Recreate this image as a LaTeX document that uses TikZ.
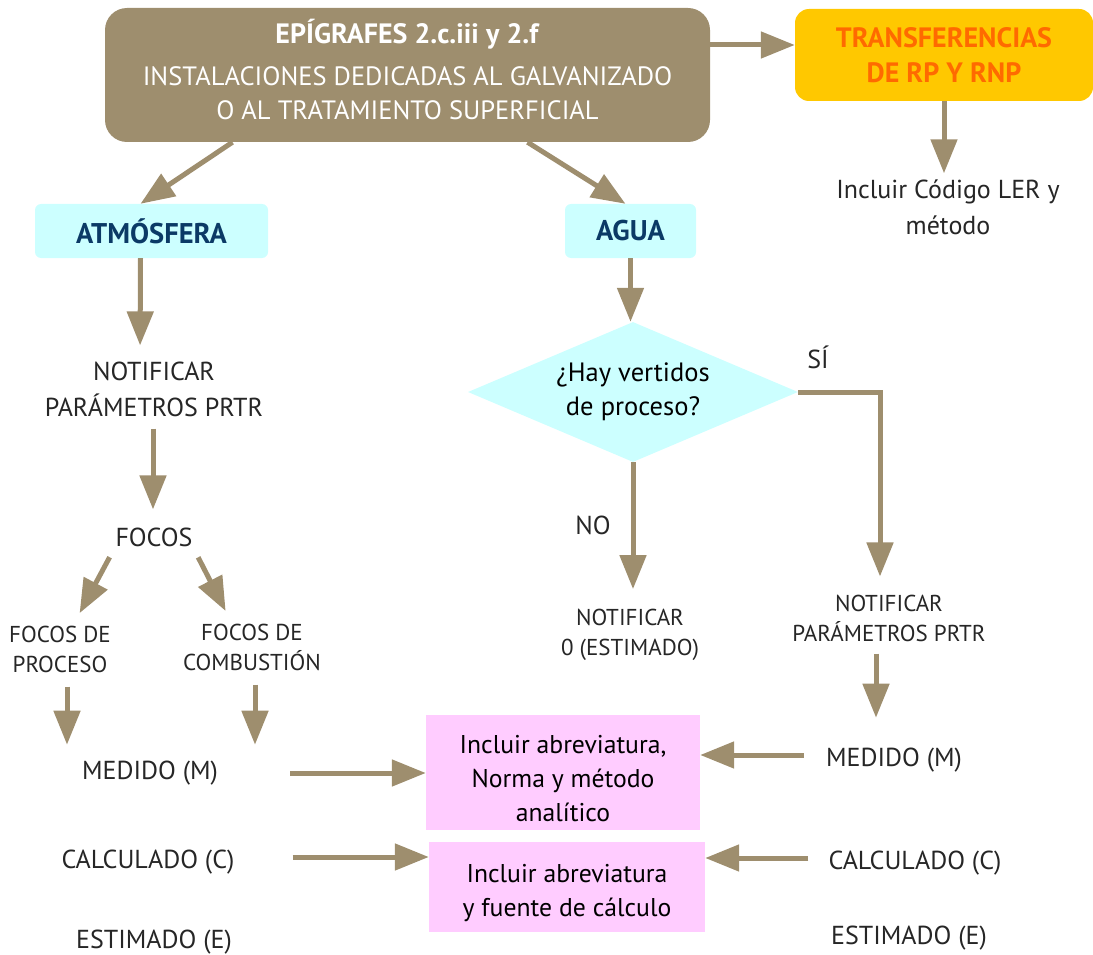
\documentclass[tikz,border=0pt]{standalone}
\usepackage{fontspec}
\setmainfont{PT Sans}
\usetikzlibrary{arrows.meta,shapes.geometric}

\definecolor{tierra}{HTML}{9E8E6E}
\definecolor{celeste}{HTML}{CCFFFF}
\definecolor{rosa}{HTML}{FFCCFF}
\definecolor{oro}{HTML}{FFC800}
\definecolor{naranja}{HTML}{FF6A00}
\definecolor{marino}{HTML}{0B3A66}
\definecolor{texto}{HTML}{262626}

\tikzset{
  flecha/.style={draw=tierra, line width=5pt, -{Triangle[length=34pt,width=26pt]}},
  etiq/.style={text=texto, align=center, inner sep=0pt, font=\fontsize{26}{36}\selectfont},
  etiqc/.style={text=texto, align=center, inner sep=0pt, font=\fontsize{23}{30}\selectfont},
  medio/.style={fill=celeste, rounded corners=6pt, text=marino, font=\fontsize{28.5}{30}\selectfont\bfseries, minimum height=54pt},
  nota/.style={fill=rosa, text=black, align=center, font=\fontsize{25.7}{34}\selectfont}
}

\begin{document}
\begin{tikzpicture}[x=1pt,y=-1pt]
\useasboundingbox (0,0) rectangle (1093,955);

% cabecera
\node[fill=tierra, rounded corners=22pt, minimum width=605pt, minimum height=134pt,
  text=white, align=center, text depth=12pt, font=\fontsize{26.5}{34}\selectfont] (epig) at (407.5,75)
  {\fontsize{28}{34}\selectfont\textbf{EPÍGRAFES 2.c.iii y 2.f}\\[8pt]INSTALACIONES DEDICADAS AL GALVANIZADO\\O AL TRATAMIENTO SUPERFICIAL};
\node[fill=oro, rounded corners=14pt, minimum width=298pt, minimum height=92pt,
  text=naranja, align=center, font=\fontsize{28}{35}\selectfont\bfseries] (trans) at (944,55)
  {TRANSFERENCIAS\\DE RP Y RNP};
\node[etiq] (ler) at (948,207) {Incluir Código LER y\\método};

% medios
\node[medio, minimum width=233pt] (atm) at (151.5,231) {ATMÓSFERA};
\node[medio, minimum width=131pt] (agua) at (630.5,231) {AGUA};

% atmosfera
\node[etiq] (notif1) at (154,389) {NOTIFICAR\\PARÁMETROS PRTR};
\node[etiq] (focos) at (154,537) {FOCOS};
\node[etiqc] (fproc) at (60,649) {FOCOS DE\\PROCESO};
\node[etiqc] (fcomb) at (252,647) {FOCOS DE\\COMBUSTIÓN};
\node[etiq] (med1) at (150,773) {MEDIDO (M)};
\node[etiq] (calc1) at (148,862) {CALCULADO (C)};
\node[etiq] (est1) at (154,942) {ESTIMADO (E)};

% agua
\node[diamond, aspect=2.36, fill=celeste, inner sep=0pt, minimum width=330pt, minimum height=140pt,
  text=black, align=center, font=\fontsize{26.5}{34}\selectfont] (dia) at (633,392)
  {¿Hay vertidos\\de proceso?};
\node[etiq] (si) at (818,357) {SÍ};
\node[etiq] (no) at (593,525) {NO};
\node[etiqc] (notif0) at (630,635) {NOTIFICAR\\0 (ESTIMADO)};
\node[etiqc] (notif2) at (889,618) {NOTIFICAR\\PARÁMETROS PRTR};
\node[etiq] (med2) at (894,760) {MEDIDO (M)};
\node[etiq] (calc2) at (915,863) {CALCULADO (C)};
\node[etiq] (est2) at (909,938) {ESTIMADO (E)};

% cajas rosas
\node[nota, minimum width=274pt, minimum height=115pt, text height=98pt] (incl1) at (563,772.5)
  {Incluir abreviatura,\\Norma y método\\analítico};
\node[nota, minimum width=276pt, minimum height=90pt, text height=64pt] (incl2) at (567,887)
  {Incluir abreviatura\\y fuente de cálculo};

% flechas
\draw[flecha] ([yshift=30pt]epig.east) -- ([yshift=30pt]epig.east -| trans.west);
\draw[flecha, shorten >=6pt] (trans.south) -- (trans.south |- ler.north);
\draw[flecha] ([xshift=-175pt]epig.south) -- ([xshift=-11pt]atm.north);
\draw[flecha] ([xshift=120pt]epig.south) -- ([xshift=-5pt]agua.north);
\draw[flecha, shorten >=16pt] ([xshift=-11pt]atm.south) -- ([xshift=-14pt]notif1.north);
\draw[flecha, shorten <=12pt, shorten >=18pt] ([xshift=-1pt]notif1.south) -- ([xshift=-1pt]focos.north);
\draw[flecha, shorten <=12pt, shorten >=14pt] (focos.south west) -- ([xshift=13pt]fproc.north);
\draw[flecha, shorten <=12pt, shorten >=14pt] (focos.south east) -- ([xshift=-20pt]fcomb.north);
\draw[flecha, shorten <=14pt, shorten >=16pt] ([xshift=7pt]fproc.south) -- ([xshift=7pt]fproc.south |- med1.north);
\draw[flecha, shorten <=14pt, shorten >=16pt] ([xshift=3pt]fcomb.south) -- ([xshift=3pt]fcomb.south |- med1.north);
\draw[flecha, shorten <=72pt] (med1.east) -- (med1.east -| incl1.west);
\draw[flecha, shorten <=58pt] ([yshift=5pt]calc1.east) -- ([yshift=5pt]calc1.east -| incl2.west);
\draw[flecha] (agua.south) -- (agua.south |- dia.north);
\draw[flecha, shorten >=18pt] (dia.east) -| ([xshift=-9pt]notif2.north);
\draw[flecha, shorten >=20pt] (dia.south) -- (dia.south |- notif0.north);
\draw[flecha, shorten <=12pt, shorten >=30pt] ([xshift=-13pt]notif2.south) -- ([xshift=-13pt]notif2.south |- med2.north);
\draw[flecha, shorten <=22pt] ([yshift=5pt]med2.west) -- ([yshift=5pt]med2.west -| incl1.east);
\draw[flecha, shorten <=20pt] ([yshift=5pt]calc2.west) -- ([yshift=5pt]calc2.west -| incl2.east);
\end{tikzpicture}
\end{document}
